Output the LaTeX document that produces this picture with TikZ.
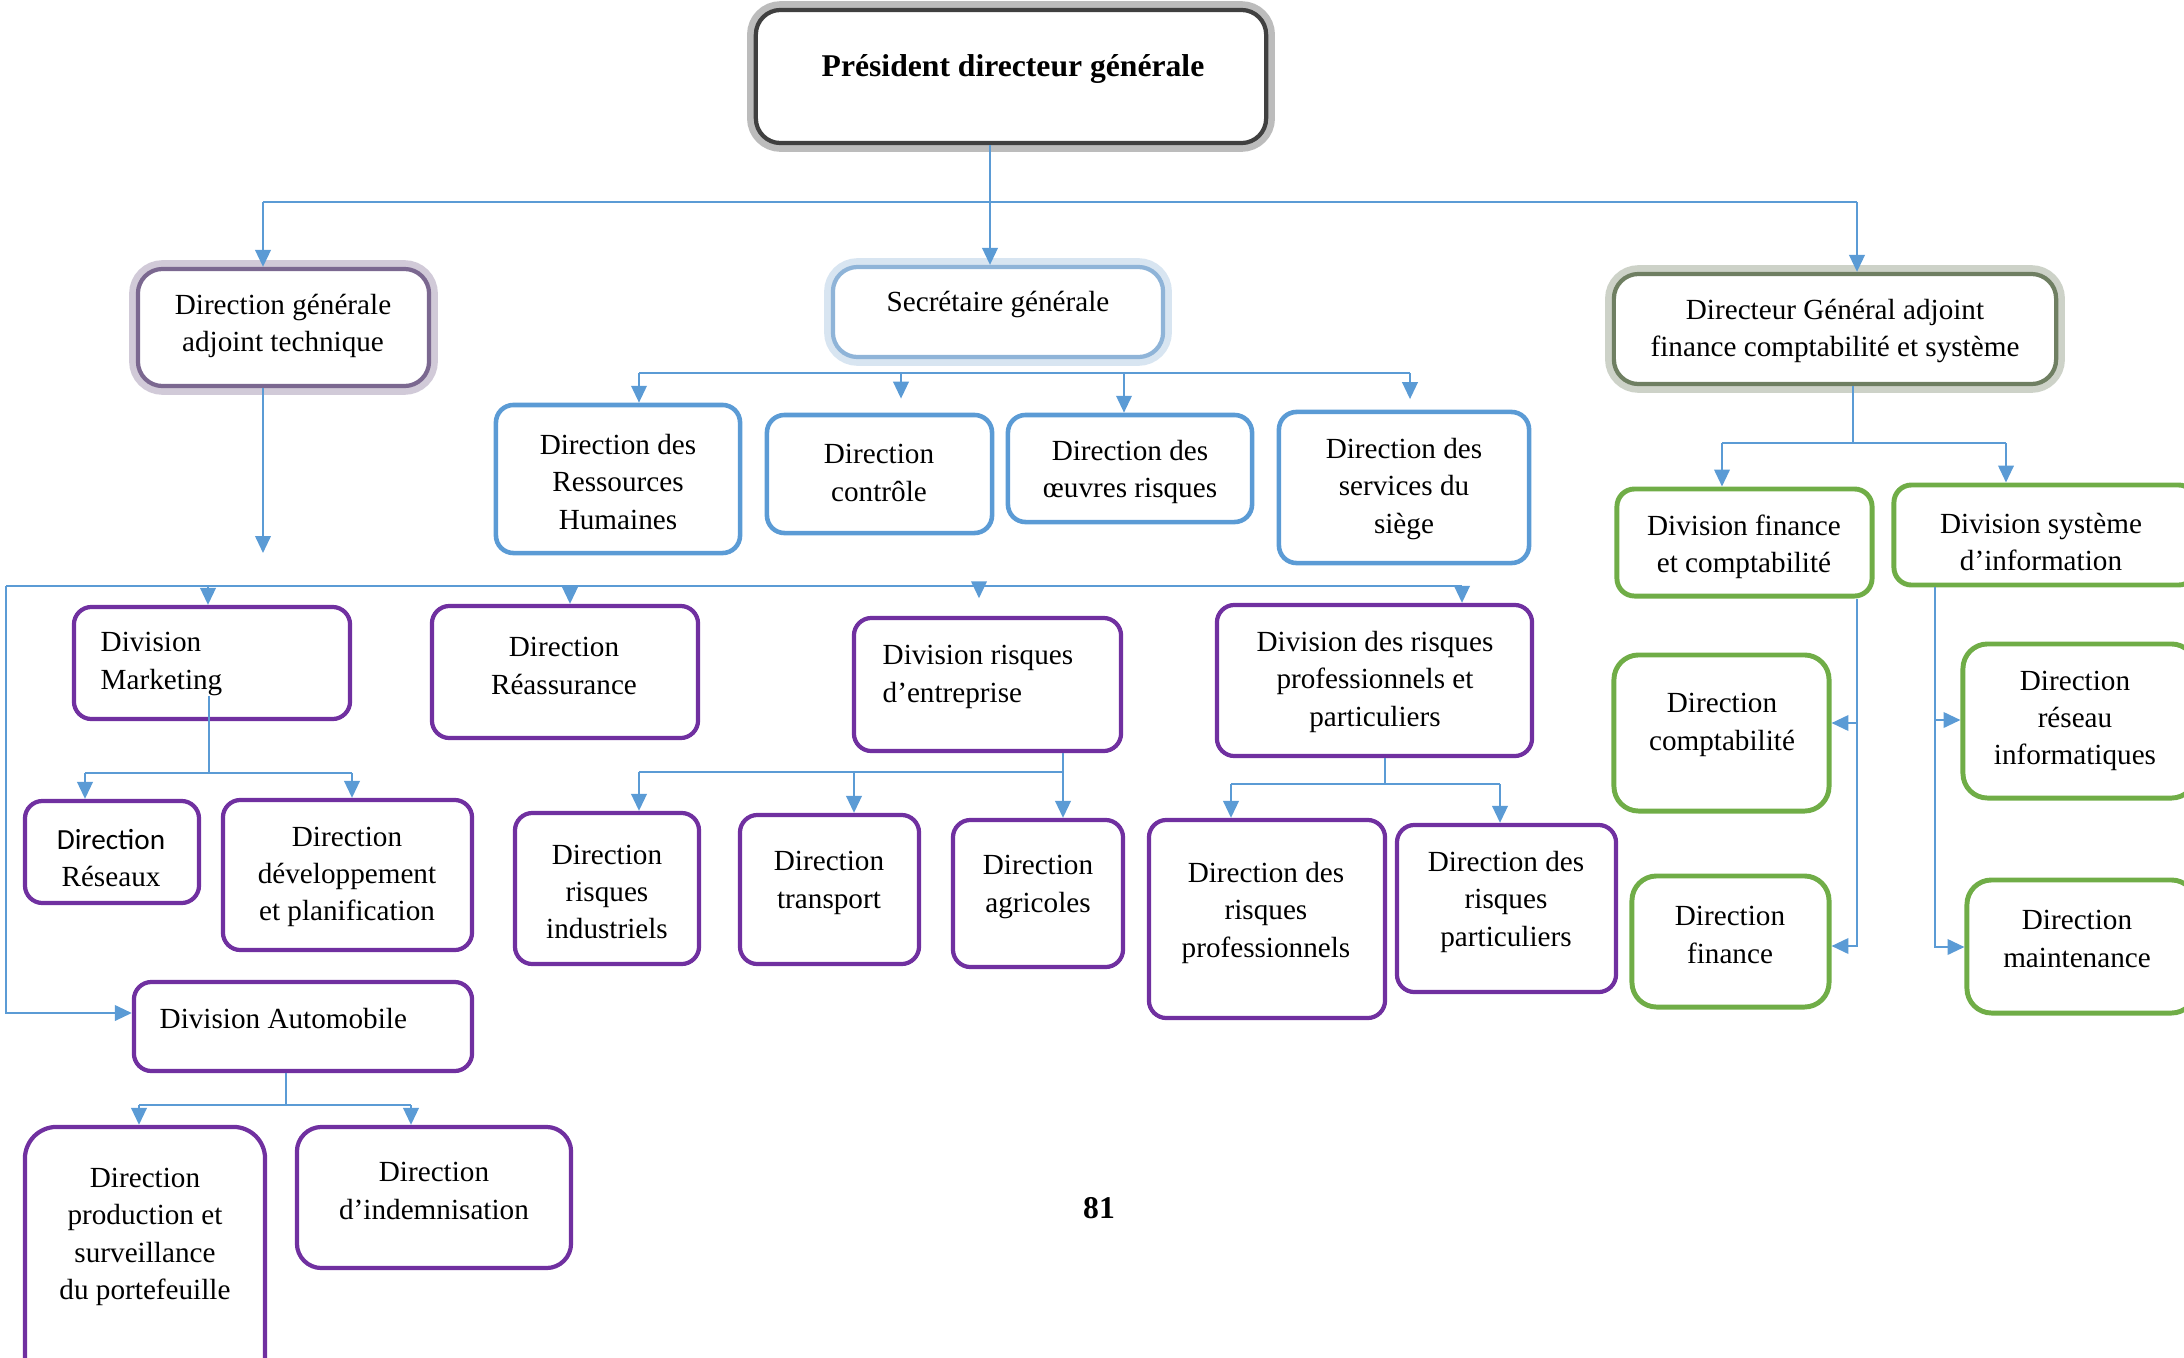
\documentclass[tikz,border=0pt]{standalone}
\usepackage{fontspec}
\setmainfont{Liberation Serif}
\newfontfamily\carlito{Carlito}
\usetikzlibrary{arrows.meta}

\definecolor{linkblue}{HTML}{5B9BD5}
\definecolor{boxpurple}{HTML}{7030A0}
\definecolor{boxgreen}{HTML}{70AD47}
\definecolor{headgray}{HTML}{404040}
\definecolor{headpurple}{HTML}{7B6890}
\definecolor{headblue}{HTML}{8FB4D8}
\definecolor{headgreen}{HTML}{6F7F62}

\tikzset{
  link/.style={draw=linkblue, line width=0.6pt},
  linkarr/.style={link, -{Triangle[length=4.8pt,width=4.4pt]}},
  headbox/.style={draw=#1, line width=1.2pt, rounded corners=7pt, fill=white,
    preaction={draw=#1!35, line width=5pt}},
  bluebox/.style={draw=linkblue, line width=1.3pt, rounded corners=5pt},
  purplebox/.style={draw=boxpurple, line width=1.2pt, rounded corners=5pt},
  greenbox/.style={draw=boxgreen, line width=1.4pt, rounded corners=5pt},
  txt/.style={font=\fontsize{8.3}{10.6}\selectfont, align=center, inner sep=0pt, yshift=-1.1pt},
}

\begin{document}
\begin{tikzpicture}[x=0.01cm, y={(0,-0.01cm)}]
  \clip (0,0) rectangle (2184,1357);

  % direction generale
  \node[headbox=headgray, minimum width=5.10cm, minimum height=1.33cm] (pdg) at (1011,76.5) {};
  \node[txt, font=\fontsize{9}{11}\bfseries\selectfont] (pdg-t) at (1013,65) {Président directeur générale};

  \node[headbox=headpurple, minimum width=2.91cm, minimum height=1.17cm] (dgat) at (283.5,327.5) {};
  \node[txt] (dgat-t) at (283,322) {Direction générale\\adjoint technique};
  \node[headbox=headblue, minimum width=3.30cm, minimum height=0.90cm] (sg) at (998,312) {};
  \node[txt] (sg-t) at (998,301) {Secrétaire générale};
  \node[headbox=headgreen, minimum width=4.42cm, minimum height=1.10cm] (dgaf) at (1835,329) {};
  \node[txt] (dgaf-t) at (1835,327) {Directeur Général adjoint\\finance comptabilité et système};

  % secretariat
  \node[bluebox, minimum width=2.44cm, minimum height=1.48cm] (drh) at (618,479) {};
  \node[txt] (drh-t) at (618,478) {Direction des\\Ressources\\Humaines};
  \node[bluebox, minimum width=2.25cm, minimum height=1.18cm] (ctrl) at (879.5,474) {};
  \node[txt] (ctrl-t) at (879,469) {Direction\\contrôle};
  \node[bluebox, minimum width=2.44cm, minimum height=1.07cm] (oeuv) at (1130,468.5) {};
  \node[txt] (oeuv-t) at (1130,468) {Direction des\\œuvres risques};
  \node[bluebox, minimum width=2.50cm, minimum height=1.51cm] (siege) at (1404,487.5) {};
  \node[txt] (siege-t) at (1404,485) {Direction des\\services du\\siège};

  % divisions techniques
  \node[purplebox, minimum width=2.76cm, minimum height=1.12cm] (mkt) at (212,663) {};
  \node[txt, align=left, anchor=west] (mkt-t) at (100,660) {Division\\Marketing};
  \node[purplebox, minimum width=2.66cm, minimum height=1.32cm] (reas) at (565,672) {};
  \node[txt] (reas-t) at (564,662) {Direction\\Réassurance};
  \node[purplebox, minimum width=2.67cm, minimum height=1.33cm] (rent) at (987.5,684.5) {};
  \node[txt, align=left, anchor=west] (rent-t) at (882,673) {Division risques\\d’entreprise};
  \node[purplebox, minimum width=3.15cm, minimum height=1.51cm] (rpp) at (1374.5,680.5) {};
  \node[txt] (rpp-t) at (1375,678) {Division des risques\\professionnels et\\particuliers};

  \node[purplebox, minimum width=1.74cm, minimum height=1.02cm] (res) at (112,852) {};
  \node[txt] (res-t) at (111,854) {{\carlito Direction}\\Réseaux};
  \node[purplebox, minimum width=2.49cm, minimum height=1.50cm] (dev) at (347.5,875) {};
  \node[txt] (dev-t) at (347,873) {Direction\\développement\\et planification};
  \node[purplebox, minimum width=1.84cm, minimum height=1.51cm] (rind) at (607,888.5) {};
  \node[txt] (rind-t) at (607,888) {Direction\\risques\\industriels};
  \node[purplebox, minimum width=1.79cm, minimum height=1.49cm] (trans) at (829.5,889.5) {};
  \node[txt] (trans-t) at (829,879) {Direction\\transport};
  \node[purplebox, minimum width=1.70cm, minimum height=1.47cm] (agri) at (1038,893.5) {};
  \node[txt] (agri-t) at (1038,883) {Direction\\agricoles};
  \node[purplebox, minimum width=2.36cm, minimum height=1.98cm] (rprof) at (1267,919) {};
  \node[txt] (rprof-t) at (1266,909) {Direction des\\risques\\professionnels};
  \node[purplebox, minimum width=2.19cm, minimum height=1.67cm] (rpart) at (1506.5,908.5) {};
  \node[txt] (rpart-t) at (1506,898) {Direction des\\risques\\particuliers};

  \node[purplebox, minimum width=3.38cm, minimum height=0.89cm] (auto) at (303,1026.5) {};
  \node[txt, anchor=west] (auto-t) at (159,1015) {Division Automobile};
  \node[purplebox, rounded corners=9pt, minimum width=2.40cm, minimum height=2.68cm] (prod) at (145,1261) {};
  \node[txt] (prod-t) at (145,1233) {Direction\\production et\\surveillance\\du portefeuille};
  \node[purplebox, rounded corners=7pt, minimum width=2.74cm, minimum height=1.41cm] (indem) at (434,1197.5) {};
  \node[txt] (indem-t) at (434,1187) {Direction\\d’indemnisation};

  % finance et systeme
  \node[greenbox, minimum width=2.55cm, minimum height=1.07cm] (dfc) at (1744.5,542.5) {};
  \node[txt] (dfc-t) at (1744,543) {Division finance\\et comptabilité};
  \node[greenbox, minimum width=3.02cm, minimum height=1.00cm] (dsi) at (2045,535) {};
  \node[txt] (dsi-t) at (2041,538) {Division système\\d’information};
  \node[greenbox, rounded corners=7pt, minimum width=2.15cm, minimum height=1.56cm] (dcpt) at (1721.5,733) {};
  \node[txt] (dcpt-t) at (1722,721) {Direction\\comptabilité};
  \node[greenbox, rounded corners=7pt, minimum width=1.97cm, minimum height=1.31cm] (dfin) at (1730.5,941.5) {};
  \node[txt] (dfin-t) at (1730,931) {Direction\\finance};
  \node[greenbox, rounded corners=7pt, minimum width=2.33cm, minimum height=1.54cm] (dres) at (2079.5,721) {};
  \node[txt] (dres-t) at (2075,717) {Direction\\réseau\\informatiques};
  \node[greenbox, rounded corners=7pt, minimum width=2.29cm, minimum height=1.33cm] (dmain) at (2081.5,946.5) {};
  \node[txt] (dmain-t) at (2077,935) {Direction\\maintenance};

  \node[font=\fontsize{9}{11}\bfseries\selectfont] (page) at (1099,1208) {81};

  % top level links
  \coordinate (top) at (990,202);
  \coordinate (topl) at (263,202);
  \coordinate (topr) at (1857,202);
  \draw[linkarr] (top |- pdg.south) -- (top |- sg.north);
  \draw[link] (topl) -- (topr);
  \draw[linkarr] (topl) -- (topl |- dgat.north);
  \draw[linkarr] (topr) -- (topr |- dgaf.north);

  % secretariat links
  \coordinate (s1) at (639,373);
  \coordinate (s2) at (901,373);
  \coordinate (s3) at (1124,373);
  \coordinate (s4) at (1410,373);
  \draw[link] (s1) -- (s4);
  \draw[linkarr] (s1) -- (s1 |- drh.north);
  \draw[linkarr, shorten >=4pt] (s2) -- (s2 |- ctrl.north);
  \draw[linkarr] (s3) -- (s3 |- oeuv.north);
  \draw[linkarr, shorten >=3pt] (s4) -- (s4 |- siege.north);

  % technique links
  \coordinate (tv) at (263,553);
  \draw[linkarr] (tv |- dgat.south) -- (tv);
  \coordinate (m0) at (6,586);
  \coordinate (m1) at (208,586);
  \coordinate (m2) at (570,586);
  \coordinate (m3) at (979,586);
  \coordinate (m4) at (1462,586);
  \coordinate (ma) at (6,1013);
  \draw[link] (m0) -- (m4);
  \draw[linkarr] (m0) -- (ma) -- (ma -| auto.west);
  \foreach \c/\n in {m1/mkt, m2/reas, m4/rpp}
    \draw[linkarr] (\c) -- (\c |- \n.north);
  \draw[linkarr, shorten >=5pt] (m3) -- (m3 |- rent.north);

  % marketing
  \coordinate (k0) at (209,773);
  \coordinate (k1) at (85,773);
  \coordinate (k2) at (352,773);
  \draw[link] (k0 |- mkt-t.south) -- (k0);
  \draw[link] (k1) -- (k2);
  \draw[linkarr] (k1) -- (k1 |- res.north);
  \draw[linkarr] (k2) -- (k2 |- dev.north);

  % risques d'entreprise
  \coordinate (e0) at (1063,772);
  \coordinate (e1) at (639,772);
  \coordinate (e2) at (854,772);
  \draw[linkarr] (e0 |- rent.south) -- (e0 |- agri.north);
  \draw[link] (e1) -- (e0);
  \draw[linkarr] (e1) -- (e1 |- rind.north);
  \draw[linkarr] (e2) -- (e2 |- trans.north);

  % professionnels et particuliers
  \coordinate (p0) at (1385,784);
  \coordinate (p1) at (1231,784);
  \coordinate (p2) at (1500,784);
  \draw[link] (p0 |- rpp.south) -- (p0);
  \draw[link] (p1) -- (p2);
  \draw[linkarr] (p1) -- (p1 |- rprof.north);
  \draw[linkarr] (p2) -- (p2 |- rpart.north);

  % automobile
  \coordinate (a0) at (286,1105);
  \coordinate (a1) at (139,1105);
  \coordinate (a2) at (411,1105);
  \draw[link] (a0 |- auto.south) -- (a0);
  \draw[link] (a1) -- (a2);
  \draw[linkarr] (a1) -- (a1 |- prod.north);
  \draw[linkarr] (a2) -- (a2 |- indem.north);

  % finance links
  \coordinate (f0) at (1853,443);
  \coordinate (f1) at (1722,443);
  \coordinate (f2) at (2006,443);
  \draw[link] (f0 |- dgaf.south) -- (f0);
  \draw[link] (f1) -- (f2);
  \draw[linkarr] (f1) -- (f1 |- dfc.north);
  \draw[linkarr] (f2) -- (f2 |- dsi.north);
  \coordinate (fl) at (1857,946);
  \coordinate (fc) at (1857,723);
  \coordinate (fr) at (1935,947);
  \coordinate (fn) at (1935,720);
  \draw[linkarr] (fl |- dfc.south) -- (fl) -- (fl -| dfin.east);
  \draw[linkarr] (fc) -- (fc -| dcpt.east);
  \draw[linkarr] (fr |- dsi.south) -- (fr) -- (fr -| dmain.west);
  \draw[linkarr] (fn) -- (fn -| dres.west);
\end{tikzpicture}
\end{document}
